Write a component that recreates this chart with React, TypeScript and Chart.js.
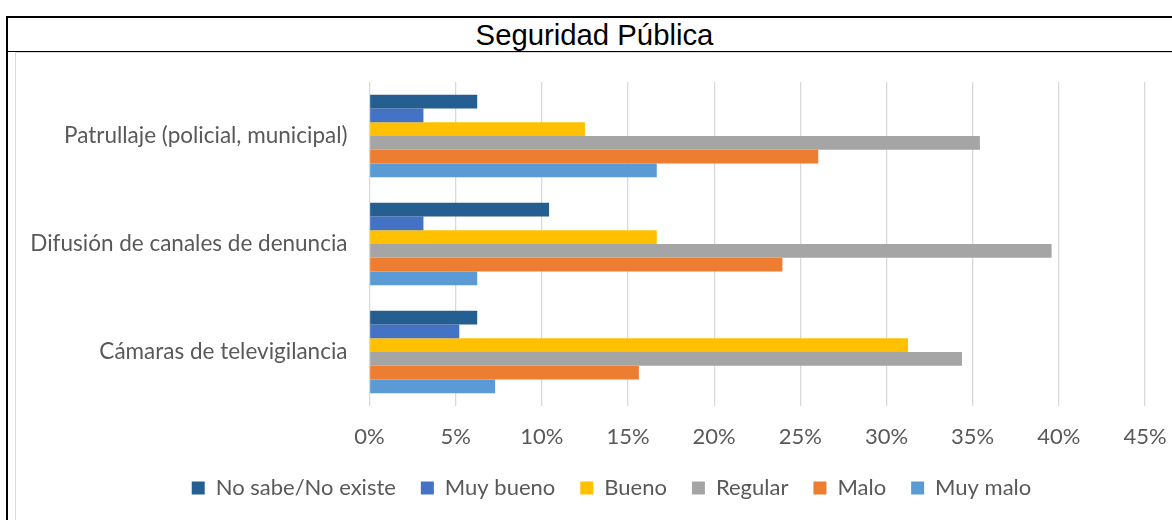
import React, { useEffect, useRef } from "react";
import { Chart, registerables } from "chart.js";

Chart.register(...registerables);

const title = "Seguridad Pública";
const categories = [
  "Patrullaje (policial, municipal)",
  "Difusión de canales de denuncia",
  "Cámaras de televigilancia",
];
const seriesNames = ["No sabe/No existe", "Muy bueno", "Bueno", "Regular", "Malo", "Muy malo"];
const seriesColors = ["#255E91", "#4472C4", "#FFC000", "#A5A5A5", "#ED7D31", "#5B9BD5"];
const noSabe = [6.25, 10.42, 6.25];
const muyBueno = [3.13, 3.13, 5.21];
const bueno = [12.5, 16.67, 31.25];
const regular = [35.42, 39.58, 34.38];
const malo = [26.04, 23.96, 15.63];
const muyMalo = [16.67, 6.25, 7.29];
const seriesValues = [noSabe, muyBueno, bueno, regular, malo, muyMalo];
const xTicksMax = 45;
const xTickStep = 5;

const FONT = "Lato";
const TEXT = "#595959";

const shiftLegend = {
  id: "shiftLegend",
  afterLayout(chart: any) {
    const l = chart.legend;
    if (l) {
      l.left += 31;
      l.right += 31;
    }
  },
};

export default function App() {
  const ref = useRef<HTMLCanvasElement | null>(null);

  useEffect(() => {
    if (!ref.current) return;
    const chart = new Chart(ref.current, {
      type: "bar",
      data: {
        labels: categories,
        datasets: seriesNames.map((name, i) => ({
          label: name,
          data: seriesValues[i],
          backgroundColor: seriesColors[i],
          borderWidth: 0,
          categoryPercentage: 0.763,
          barPercentage: 1,
        })),
      },
      options: {
        indexAxis: "y",
        responsive: false,
        animation: false,
        layout: { padding: { top: 29, right: 27, left: 0, bottom: 11 } },
        scales: {
          x: {
            min: 0,
            max: xTicksMax,
            ticks: {
              stepSize: xTickStep,
              callback: (v: any) => v + "%",
              color: TEXT,
              font: { family: FONT, size: 22 },
              padding: 18,
            },
            grid: { color: "#D9D9D9", lineWidth: 1.3, drawTicks: false },
            border: { display: false },
            afterFit: (s: any) => {
              s.height = 46;
              s.paddingLeft = 0;
              s.paddingRight = 0;
            },
          },
          y: {
            ticks: { color: TEXT, font: { family: FONT, size: 22.5 }, padding: 14 },
            grid: { display: false },
            border: { display: false },
            afterFit: (s: any) => {
              s.width = 353.5;
              s.paddingTop = 0;
              s.paddingBottom = 0;
            },
          },
        },
        plugins: {
          legend: {
            position: "bottom",
            labels: {
              boxWidth: 13,
              boxHeight: 13,
              padding: 25,
              color: TEXT,
              font: { family: FONT, size: 22 },
            },
          },
          tooltip: { enabled: false },
        },
      },
      plugins: [shiftLegend],
    });
    return () => chart.destroy();
  }, []);

  return (
    <div
      style={{
        position: "fixed",
        left: 0,
        top: 0,
        width: 1172,
        height: 520,
        background: "#fff",
        overflow: "hidden",
      }}
    >
      <div
        style={{
          position: "absolute",
          left: 6,
          top: 16,
          width: 1300,
          height: 600,
          borderTop: "2px solid #000",
          borderLeft: "2px solid #000",
        }}
      />
      <div
        style={{
          position: "absolute",
          left: 6,
          top: 51,
          width: 1300,
          height: 0,
          borderTop: "1.5px solid #000",
        }}
      />
      <div
        style={{
          position: "absolute",
          left: 6,
          top: 18,
          width: 1177,
          height: 33,
          lineHeight: "33px",
          textAlign: "center",
          fontFamily: "'Liberation Sans', Arial, sans-serif",
          fontSize: 29.3,
          color: "#000",
        }}
      >
        {title}
      </div>
      <div
        style={{
          position: "absolute",
          left: 15,
          top: 52,
          width: 1300,
          height: 600,
          borderTop: "1px solid #D9D9D9",
          borderLeft: "1px solid #D9D9D9",
        }}
      />
      <div style={{ position: "absolute", left: 16, top: 53, width: 1156, height: 467 }}>
        <canvas ref={ref} width={1156} height={467} style={{ display: "block" }} />
      </div>
    </div>
  );
}
